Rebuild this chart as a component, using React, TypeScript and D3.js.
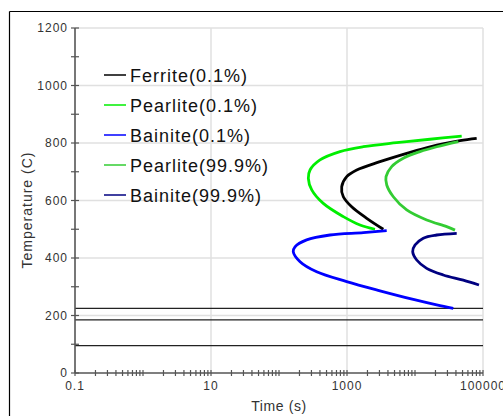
import React from 'react';
import * as d3 from 'd3';

// time (s), temperature (C) pairs
const ferrite01 = [
  [80700, 816], [45900, 808], [16630, 787], [7550, 764], [3055, 735], [1390, 706],
  [990, 683], [836, 648], [883, 613], [1172, 578], [1950, 538], [3420, 500],
];
const pearlite01 = [
  [48600, 824], [16600, 813], [5380, 801], [1738, 787], [789, 770], [401, 741],
  [286, 706], [270, 677], [303, 637], [448, 590], [883, 544], [1553, 515], [2580, 500],
];
const bainite01 = [
  [3836, 495], [1738, 488], [562, 480], [255, 463], [172, 439], [162, 422],
  [204, 387], [358, 352], [990, 318], [3055, 286], [9440, 256], [20840, 237], [36560, 225],
];
const pearlite999 = [
  [43350, 805], [20840, 787], [11850, 770], [6730, 747], [4540, 718], [3750, 683],
  [3840, 654], [4800, 613], [7550, 567], [14860, 532], [29240, 509], [38730, 497],
];
const bainite999 = [
  [41050, 486], [20840, 480], [13240, 469], [10000, 445], [9250, 422], [10590, 393],
  [14860, 364], [26070, 341], [51300, 323], [87300, 306],
];
const martensiteLines = [225, 185, 95];

const seriesNames = ['Ferrite(0.1%)', 'Pearlite(0.1%)', 'Bainite(0.1%)', 'Pearlite(99.9%)', 'Bainite(99.9%)'];
const seriesColors = ['#000000', '#00ee00', '#0000ff', '#33cc33', '#000080'];
const seriesData = [ferrite01, pearlite01, bainite01, pearlite999, bainite999];

const xLabels = [0.1, 10, 1000, 100000];
const yTicks = [0, 200, 400, 600, 800, 1000, 1200];

const font = '"Liberation Sans", Arial, sans-serif';

const App = () => {
  const x = d3.scaleLog().domain([0.1, 100000]).range([75, 483]);
  const y = d3.scaleLinear().domain([0, 1200]).range([373, 28]);

  const line = d3
    .line<number[]>()
    .x(d => x(d[0]))
    .y(d => y(d[1]))
    .curve(d3.curveCatmullRom.alpha(0.5));

  const minorX: number[] = [];
  for (let p = -1; p < 5; p++) {
    for (let k = 1; k < 10; k++) minorX.push(k * Math.pow(10, p));
  }
  minorX.push(100000);
  const minorY = d3.range(0, 1201, 100);

  return (
    <svg width={503} height={416} style={{ position: 'absolute', left: 0, top: 0, background: '#fff' }}>
      <line x1={9.5} x2={503} y1={11.5} y2={11.5} stroke="#000" strokeWidth={1.2} />
      <line x1={9.5} x2={9.5} y1={11.5} y2={416} stroke="#000" strokeWidth={1.2} />

      {/* grid */}
      {yTicks.slice(1).map(t => (
        <line key={'gy' + t} x1={75} x2={483} y1={y(t)} y2={y(t)} stroke="#e0e0e0" strokeWidth={1.5} />
      ))}
      {xLabels.slice(1).map(t => (
        <line key={'gx' + t} x1={x(t)} x2={x(t)} y1={28} y2={373} stroke="#e0e0e0" strokeWidth={1.5} />
      ))}

      {/* horizontal temperature lines */}
      {martensiteLines.map(t => (
        <line key={'m' + t} x1={75} x2={483} y1={y(t)} y2={y(t)} stroke="#222" strokeWidth={1.2} />
      ))}

      {/* axes */}
      <line x1={75} x2={75} y1={28} y2={373} stroke="#555" strokeWidth={1.6} />
      <line x1={75} x2={483} y1={373} y2={373} stroke="#555" strokeWidth={1.6} />
      {minorY.map(t => (
        <line key={'ty' + t} x1={71} x2={79} y1={y(t)} y2={y(t)} stroke="#555" strokeWidth={1.2} />
      ))}
      {minorX.map(t => (
        <line key={'tx' + t} x1={x(t)} x2={x(t)} y1={370} y2={376} stroke="#555" strokeWidth={1.2} />
      ))}
      {yTicks.map(t => (
        <text key={'ly' + t} x={68} y={y(t)} dy="0.35em" textAnchor="end" fontFamily={font}
          fontSize={12} letterSpacing={1} fill="#333">{t}</text>
      ))}
      {xLabels.map(t => (
        <text key={'lx' + t} x={x(t)} y={390} textAnchor="middle" fontFamily={font}
          fontSize={12} letterSpacing={1} fill="#333">{t >= 1 ? d3.format('d')(t) : String(t)}</text>
      ))}
      <text x={279} y={411} textAnchor="middle" fontFamily={font} fontSize={14} letterSpacing={0.6} fill="#333">Time (s)</text>
      <text transform="translate(32,210) rotate(-90)" textAnchor="middle" fontFamily={font} fontSize={14}
        letterSpacing={1} fill="#333">Temperature (C)</text>

      {/* curves */}
      {seriesData.map((d, i) => (
        <path key={'s' + i} d={line(d) || ''} fill="none" stroke={seriesColors[i]} strokeWidth={2.8}
          strokeLinejoin="round" />
      ))}

      {/* legend */}
      {seriesNames.map((n, i) => (
        <g key={'lg' + i} transform={`translate(104,${75 + i * 30})`}>
          <line x1={0} x2={22} y1={0} y2={0} stroke={seriesColors[i]} strokeWidth={1.5} />
          <text x={26} y={0} dy="0.4em" fontFamily={font} fontSize={18} letterSpacing={1} fill="#111">{n}</text>
        </g>
      ))}
    </svg>
  );
};

export default App;
